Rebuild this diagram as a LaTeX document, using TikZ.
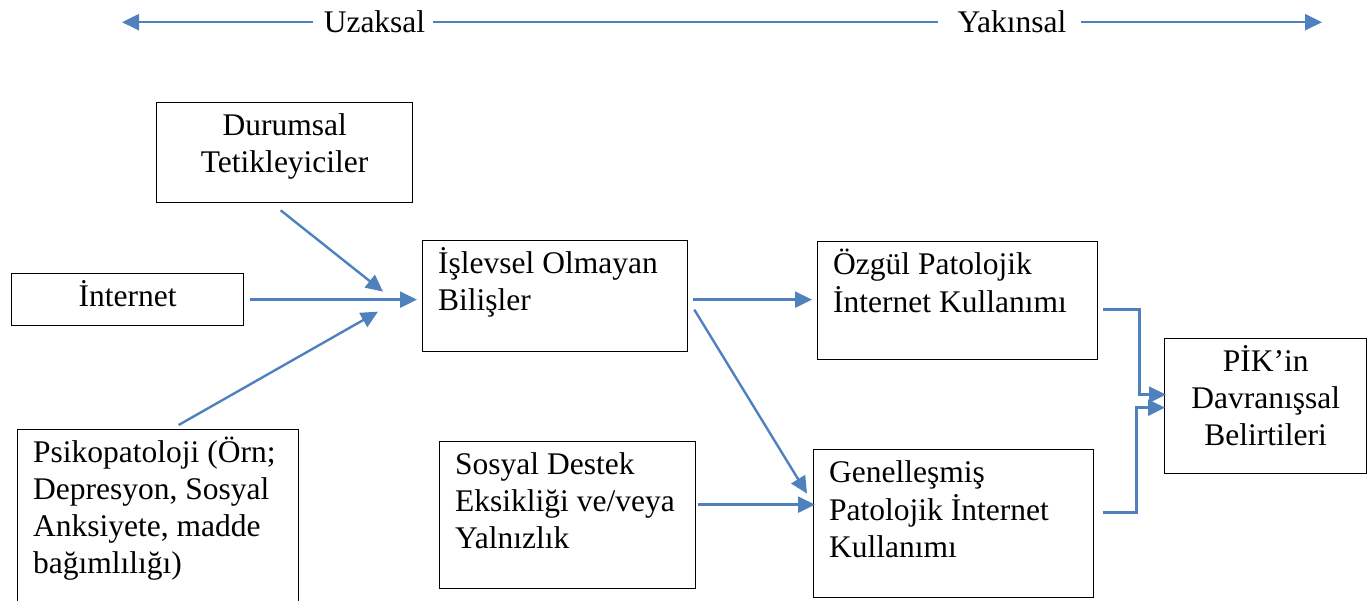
\documentclass[tikz,border=0pt]{standalone}
\usepackage{fontspec}
\setmainfont{Liberation Serif}
\usetikzlibrary{arrows.meta}
\definecolor{arrowblue}{RGB}{79,129,189}

\begin{document}
\begin{tikzpicture}[x=1pt,y=-1pt,
  box/.style 2 args={draw=black,line width=1.3pt,minimum width=#1,minimum height=#2,inner sep=0pt,anchor=north west},
  txt/.style={font=\fontsize{31.5}{37}\selectfont,inner sep=0pt,align=left,anchor=north west},
  txtc/.style={txt,align=center,anchor=north},
  arr/.style={draw=arrowblue,line width=2.4pt,-{Triangle[length=17pt,width=16pt]}},
  plain/.style={draw=arrowblue,line width=1.7pt}]
 \useasboundingbox (0,0) rectangle (1372,601);
 \clip (0,0) rectangle (1372,601);
 \coordinate (lend) at (122,21);
 \coordinate (rend) at (1322,21);
 \node[txt,anchor=base] (uz) at (374.5,33) {Uzaksal};
 \node[txt,anchor=base] (yak) at (1012,33) {Yakınsal};
 \draw[arr] ([xshift=-11pt]uz.west) -- (uz.west -| lend);
 \draw[plain] ([xshift=8pt]uz.east) -- ([xshift=-19pt]yak.west);
 \draw[arr] ([xshift=14pt]yak.east) -- (yak.east -| rend);

 \node[box={256}{100}] (dur) at (156,102) {};
 \node[box={232}{52}] (inet) at (11,273) {};
 \node[box={281}{190}] (psi) at (17,429) {};
 \node[box={265}{111}] (isl) at (422,240) {};
 \node[box={256}{147}] (soc) at (439,441) {};
 \node[box={280}{118}] (ozg) at (817,241) {};
 \node[box={280}{148}] (gen) at (813,449) {};
 \node[box={202}{135}] (pik) at (1164,338) {};

 \node[txtc] (durtxt) at ([yshift=-7pt]dur.north) {\strut Durumsal\\Tetikleyiciler};
 \node[txtc] (inettxt) at ([yshift=-7pt]inet.north) {\strut İnternet};
 \node[txt] (psitxt) at ([shift={(16,7)}]psi.north west) {\strut Psikopatoloji (Örn;\\Depresyon, Sosyal\\Anksiyete, madde\\bağımlılığı)};
 \node[txt] (isltxt) at ([shift={(16,7)}]isl.north west) {\strut İşlevsel Olmayan\\Bilişler};
 \node[txt] (soctxt) at ([shift={(16,7)}]soc.north west) {\strut Sosyal Destek\\Eksikliği ve/veya\\Yalnızlık};
 \node[txt] (ozgtxt) at ([shift={(16,7)}]ozg.north west) {\strut Özgül Patolojik\\İnternet Kullanımı};
 \node[txt] (gentxt) at ([shift={(16,7)}]gen.north west) {\strut Genelleşmiş\\Patolojik İnternet\\Kullanımı};
 \node[txtc] (piktxt) at ([yshift=-7pt]pik.north) {\strut PİK’in\\Davranışsal\\Belirtileri};

 \draw[arr] ([shift={(-4,7)}]dur.south) -- ([shift={(-39,-4.5)}]isl.west);
 \draw[arr] ([shift={(6,0)}]inet.east) -- ([shift={(-5,3.5)}]isl.west);
 \draw[arr] ([shift={(20.5,-4)}]psi.north) -- ([shift={(-44,15.5)}]isl.west);
 \draw[arr] ([shift={(5,3.5)}]isl.east) -- ([shift={(-5,-1)}]ozg.west);
 \draw[arr] ([shift={(6,13.5)}]isl.east) -- ([shift={(-6,-30)}]gen.west);
 \draw[arr] ([shift={(2,-10.5)}]soc.east) -- ([shift={(2,-19)}]gen.west);
 \draw[arr] ([shift={(5,9)}]ozg.east) -- ++(36,0) |- ([shift={(2,-11.5)}]pik.west);
 \draw[arr] ([shift={(9,-11)}]gen.east) -- ++(33,0) |- ([shift={(1,1.5)}]pik.west);
\end{tikzpicture}
\end{document}
